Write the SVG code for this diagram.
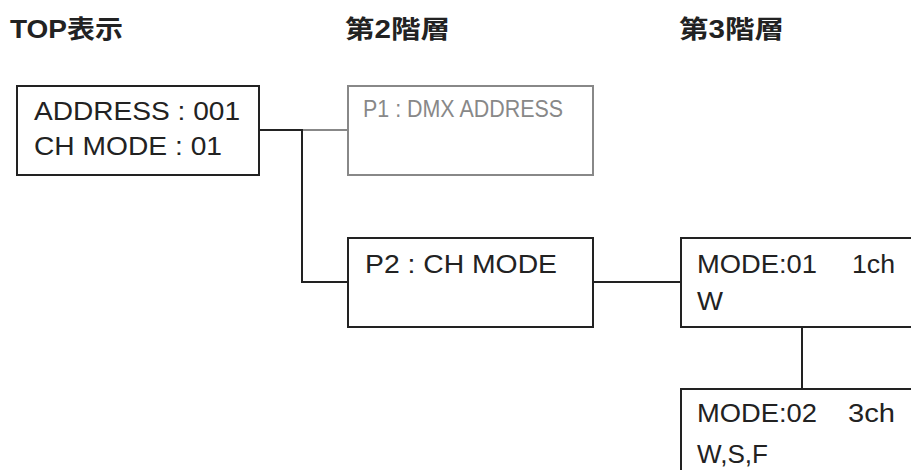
<svg xmlns="http://www.w3.org/2000/svg" width="911" height="470" viewBox="0 0 911 470">
<style>
.title{font-family:"Liberation Sans","Noto Sans CJK JP",sans-serif;font-weight:bold;font-size:25px;fill:#222}
.box{fill:#fff;stroke:#222;stroke-width:2}
.gbox{fill:#fff;stroke:#888;stroke-width:2}
.t{font-family:"Liberation Sans",Arial,sans-serif;font-size:26px;fill:#222}
.gt{font-family:"Liberation Sans",Arial,sans-serif;font-size:23px;fill:#888}
.ln{fill:none;stroke:#222;stroke-width:2}
.gln{fill:none;stroke:#888;stroke-width:2}
</style>
<rect width="911" height="470" fill="#fff"/>
<g id="titles">
<text class="title" x="10" y="38" textLength="113" lengthAdjust="spacingAndGlyphs">TOP表示</text>
<text class="title" x="345" y="38" textLength="105" lengthAdjust="spacingAndGlyphs">第2階層</text>
<text class="title" x="679" y="38" textLength="105" lengthAdjust="spacingAndGlyphs">第3階層</text>
</g>
<g id="connectors">
<polyline class="ln" points="259,130 302,130 302,282 348,282"/>
<line class="gln" x1="303" y1="130" x2="348" y2="130"/>
<line class="ln" x1="593" y1="282" x2="681" y2="282"/>
<line class="ln" x1="802" y1="327" x2="802" y2="389"/>
</g>
<g id="top">
<rect class="box" x="17" y="86" width="242" height="89"/>
<text class="t" x="34" y="120" textLength="206" lengthAdjust="spacingAndGlyphs">ADDRESS : 001</text>
<text class="t" x="34" y="155" textLength="188" lengthAdjust="spacingAndGlyphs">CH MODE : 01</text>
</g>
<g id="p1">
<rect class="gbox" x="348" y="86" width="245" height="89"/>
<text class="gt" x="363" y="117" textLength="200" lengthAdjust="spacingAndGlyphs">P1 : DMX ADDRESS</text>
</g>
<g id="p2">
<rect class="box" x="348" y="238" width="245" height="89"/>
<text class="t" x="365" y="273" textLength="192" lengthAdjust="spacingAndGlyphs">P2 : CH MODE</text>
</g>
<g id="mode01">
<rect class="box" x="681" y="238" width="240" height="89"/>
<text class="t" x="697" y="273" textLength="120" lengthAdjust="spacingAndGlyphs">MODE:01</text>
<text class="t" x="852" y="273" textLength="43" lengthAdjust="spacingAndGlyphs">1ch</text>
<text class="t" x="697" y="310" textLength="26" lengthAdjust="spacingAndGlyphs">W</text>
</g>
<g id="mode02">
<rect class="box" x="681" y="389" width="240" height="100"/>
<text class="t" x="697" y="422" textLength="120" lengthAdjust="spacingAndGlyphs">MODE:02</text>
<text class="t" x="848" y="422" textLength="47" lengthAdjust="spacingAndGlyphs">3ch</text>
<text class="t" x="697" y="463" textLength="71" lengthAdjust="spacingAndGlyphs">W,S,F</text>
</g>
</svg>
